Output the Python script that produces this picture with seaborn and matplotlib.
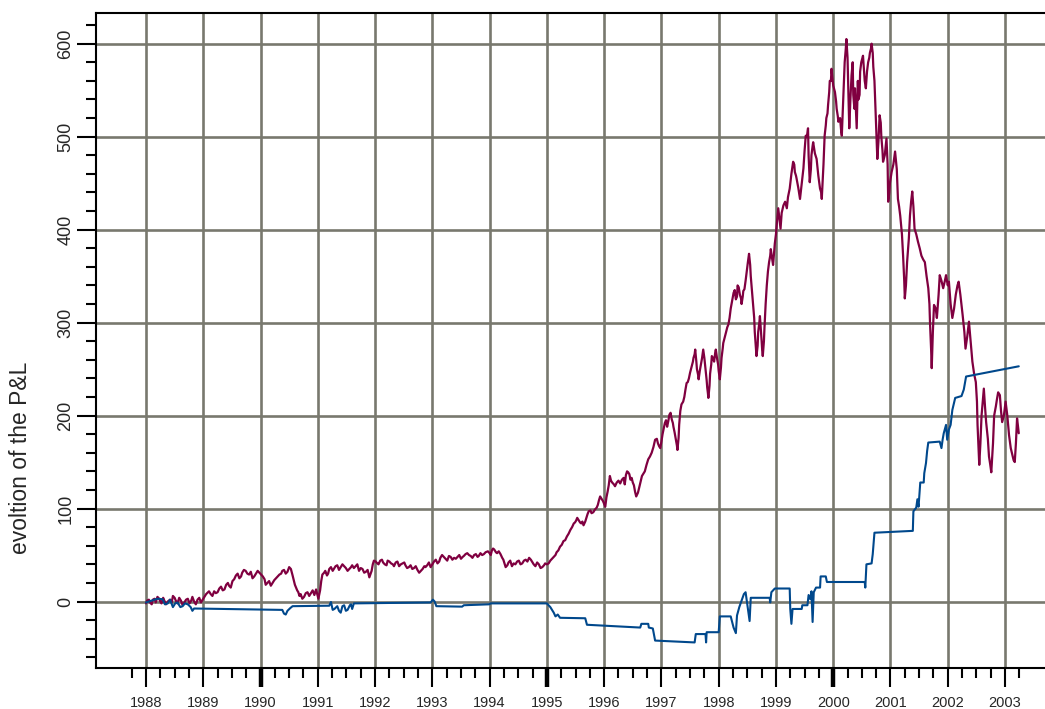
import numpy as np
import pandas as pd
import matplotlib
matplotlib.use("Agg")
import matplotlib.pyplot as plt
from matplotlib.ticker import FixedLocator
import seaborn as sns

# Cumulative P&L of the strategy (decimal year, value)
pnl_t = [
    1988.00, 1988.05, 1988.10, 1988.15, 1988.20, 1988.25, 1988.30, 1988.35, 1988.42, 1988.47,
    1988.52, 1988.58, 1988.64, 1988.70, 1988.76, 1988.81, 1988.87, 1988.93, 1989.00, 1989.05,
    1989.10, 1989.16, 1989.22, 1989.28, 1989.34, 1989.40, 1989.45, 1989.51, 1989.57, 1989.63,
    1989.68, 1989.74, 1989.80, 1989.86, 1989.92, 1989.98, 1990.04, 1990.09, 1990.15, 1990.21,
    1990.27, 1990.33, 1990.38, 1990.44, 1990.50, 1990.53, 1990.56, 1990.60, 1990.64, 1990.68,
    1990.73, 1990.79, 1990.85, 1990.91, 1990.97, 1991.01, 1991.06, 1991.11, 1991.16, 1991.20,
    1991.26, 1991.31, 1991.37, 1991.43, 1991.49, 1991.55, 1991.60, 1991.66, 1991.72, 1991.78,
    1991.84, 1991.90, 1991.94, 1991.98, 1992.04, 1992.09, 1992.14, 1992.20, 1992.25, 1992.31,
    1992.36, 1992.42, 1992.48, 1992.53, 1992.59, 1992.65, 1992.71, 1992.77, 1992.83, 1992.88,
    1992.94, 1993.00, 1993.06, 1993.12, 1993.17, 1993.23, 1993.29, 1993.35, 1993.41, 1993.47,
    1993.53, 1993.58, 1993.64, 1993.70, 1993.76, 1993.81, 1993.87, 1993.93, 1994.00, 1994.04,
    1994.08, 1994.13, 1994.19, 1994.24, 1994.28, 1994.33, 1994.39, 1994.45, 1994.51, 1994.57,
    1994.63, 1994.69, 1994.74, 1994.80, 1994.86, 1994.92, 1994.97, 1995.00, 1995.06, 1995.12,
    1995.17, 1995.23, 1995.29, 1995.35, 1995.41, 1995.47, 1995.51, 1995.55, 1995.60, 1995.64,
    1995.69, 1995.73, 1995.78, 1995.84, 1995.89, 1995.93, 1995.98, 1996.02, 1996.06, 1996.10,
    1996.14, 1996.19, 1996.25, 1996.31, 1996.36, 1996.40, 1996.44, 1996.48, 1996.52, 1996.56,
    1996.61, 1996.66, 1996.71, 1996.77, 1996.83, 1996.89, 1996.94, 1996.98, 1997.02, 1997.06,
    1997.10, 1997.14, 1997.18, 1997.21, 1997.25, 1997.28, 1997.31, 1997.35, 1997.40, 1997.44,
    1997.48, 1997.53, 1997.56, 1997.59, 1997.62, 1997.65, 1997.69, 1997.73, 1997.77, 1997.80,
    1997.82, 1997.85, 1997.88, 1997.92, 1997.95, 1997.99, 1998.02, 1998.05, 1998.08, 1998.13,
    1998.17, 1998.21, 1998.26, 1998.30, 1998.33, 1998.37, 1998.40, 1998.43, 1998.45, 1998.49,
    1998.53, 1998.56, 1998.60, 1998.63, 1998.66, 1998.69, 1998.72, 1998.75, 1998.77, 1998.80,
    1998.84, 1998.88, 1998.91, 1998.95, 1999.00, 1999.04, 1999.08, 1999.13, 1999.19, 1999.24,
    1999.30, 1999.33, 1999.36, 1999.42, 1999.48, 1999.52, 1999.56, 1999.59, 1999.62, 1999.65,
    1999.71, 1999.77, 1999.80, 1999.85, 1999.88, 1999.91, 1999.94, 1999.97, 2000.03, 2000.06,
    2000.09, 2000.15, 2000.20, 2000.23, 2000.26, 2000.28, 2000.32, 2000.35, 2000.38, 2000.41,
    2000.44, 2000.47, 2000.52, 2000.57, 2000.61, 2000.64, 2000.67, 2000.70, 2000.73, 2000.77,
    2000.81, 2000.84, 2000.87, 2000.93, 2000.96, 2000.99, 2001.02, 2001.08, 2001.13, 2001.17,
    2001.22, 2001.25, 2001.29, 2001.34, 2001.38, 2001.42, 2001.48, 2001.54, 2001.60, 2001.66,
    2001.69, 2001.72, 2001.76, 2001.81, 2001.86, 2001.92, 2001.97, 2002.02, 2002.08, 2002.14,
    2002.19, 2002.26, 2002.31, 2002.37, 2002.43, 2002.49, 2002.52, 2002.55, 2002.59, 2002.63,
    2002.67, 2002.72, 2002.76, 2002.81, 2002.86, 2002.91, 2002.95, 2003.01, 2003.07, 2003.13,
    2003.17, 2003.21, 2003.24,
]
pnl_v = [
    -2, 2, -3, 3, 5, 0, 4, -3, 2, 6,
    1, 4, -4, 2, -2, 5, -3, 4, 3, 8,
    11, 6, 9, 14, 12, 18, 17, 22, 28, 25,
    31, 33, 29, 25, 30, 31, 27, 18, 22, 20,
    25, 29, 33, 30, 37, 35, 28, 18, 12, 6,
    3, 9, 6, 12, 13, 3, 22, 31, 28, 35,
    33, 38, 34, 40, 36, 35, 39, 38, 33, 35,
    32, 26, 33, 44, 41, 44, 42, 39, 43, 40,
    42, 38, 41, 39, 37, 35, 38, 31, 35, 37,
    42, 40, 45, 43, 50, 46, 49, 45, 46, 50,
    48, 51, 50, 47, 51, 49, 50, 53, 52, 55,
    56, 52, 51, 45, 37, 42, 38, 40, 44, 41,
    45, 47, 43, 38, 40, 37, 41, 40, 44, 48,
    53, 59, 65, 70, 77, 84, 87, 88, 84, 82,
    90, 97, 95, 99, 104, 113, 108, 102, 118, 135,
    128, 124, 130, 131, 126, 140, 137, 133, 125, 113,
    122, 135, 140, 153, 160, 174, 170, 165, 180, 192,
    188, 201, 196, 188, 175, 163, 190, 212, 220, 235,
    240, 253, 262, 271, 250, 239, 255, 271, 250, 230,
    219, 245, 264, 258, 271, 255, 239, 262, 278, 290,
    298, 315, 332, 325, 340, 330, 320, 334, 336, 355,
    374, 350, 320, 290, 264, 290, 307, 280, 264, 295,
    340, 365, 379, 362, 395, 423, 401, 426, 423, 444,
    473, 462, 455, 433, 466, 501, 509, 451, 480, 494,
    476, 444, 433, 501, 520, 534, 560, 573, 548, 530,
    516, 501, 580, 605, 560, 509, 566, 545, 552, 509,
    540, 570, 587, 552, 580, 590, 600, 575, 544, 476,
    523, 500, 473, 498, 430, 450, 462, 484, 433, 415,
    372, 326, 365, 415, 441, 401, 387, 372, 365, 337,
    300, 251, 319, 305, 351, 337, 351, 344, 305, 330,
    344, 308, 272, 301, 258, 236, 190, 147, 200, 229,
    193, 156, 139, 200, 218, 222, 193, 215, 179, 157,
    150, 197, 181,
]

# Finer day-to-day swings of the same strategy P&L
pnl_detail_t = [
    1988.02, 1988.07, 1988.12, 1988.17, 1988.23, 1988.27, 1988.32, 1988.38, 1988.45, 1988.50,
    1988.55, 1988.61, 1988.67, 1988.73, 1988.79, 1988.84, 1988.90, 1988.96, 1989.03, 1989.13,
    1989.19, 1989.25, 1989.31, 1989.37, 1989.43, 1989.48, 1989.54, 1989.60, 1989.66, 1989.71,
    1989.77, 1989.83, 1989.89, 1989.95, 1990.01, 1990.07, 1990.12, 1990.18, 1990.24, 1990.30,
    1990.36, 1990.41, 1990.47, 1990.62, 1990.66, 1990.70, 1990.76, 1990.82, 1990.88, 1990.94,
    1991.04, 1991.08, 1991.13, 1991.18, 1991.23, 1991.28, 1991.34, 1991.40, 1991.46, 1991.52,
    1991.58, 1991.63, 1991.69, 1991.75, 1991.81, 1991.87, 1991.96, 1992.01, 1992.06, 1992.12,
    1992.17, 1992.22, 1992.28, 1992.33, 1992.39, 1992.45, 1992.51, 1992.56, 1992.62, 1992.68,
    1992.74, 1992.80, 1992.86, 1992.91, 1992.97, 1993.03, 1993.09, 1993.14, 1993.20, 1993.26,
    1993.32, 1993.38, 1993.44, 1993.50, 1993.55, 1993.61, 1993.67, 1993.73, 1993.79, 1993.84,
    1993.90, 1993.97, 1994.02, 1994.06, 1994.11, 1994.16, 1994.22, 1994.26, 1994.31, 1994.36,
    1994.42, 1994.48, 1994.54, 1994.60, 1994.66, 1994.72, 1994.77, 1994.83, 1994.89, 1994.95,
    1995.03, 1995.09, 1995.15, 1995.20, 1995.26, 1995.32, 1995.38, 1995.44, 1995.49, 1995.53,
    1995.58, 1995.62, 1995.67, 1995.71, 1995.76, 1995.81, 1995.87, 1995.91, 1995.96, 1996.00,
    1996.04, 1996.08, 1996.12, 1996.17, 1996.22, 1996.28, 1996.34, 1996.38, 1996.42, 1996.46,
    1996.50, 1996.54, 1996.59, 1996.64, 1996.69, 1996.74, 1996.80, 1996.86, 1996.92, 1996.96,
    1997.00, 1997.04, 1997.08, 1997.12, 1997.16, 1997.20, 1997.23, 1997.27, 1997.30, 1997.33,
    1997.38, 1997.42, 1997.46, 1997.50, 1997.55, 1997.58, 1997.61, 1997.64, 1997.67, 1997.71,
    1997.75, 1997.79, 1997.81, 1997.84, 1997.87, 1997.90, 1997.94, 1997.97, 1998.00, 1998.04,
    1998.07, 1998.11, 1998.15, 1998.19, 1998.24, 1998.28, 1998.32, 1998.35, 1998.39, 1998.42,
    1998.47, 1998.51, 1998.55, 1998.58, 1998.62, 1998.65, 1998.68, 1998.71, 1998.74, 1998.76,
    1998.79, 1998.82, 1998.86, 1998.90, 1998.93, 1998.98, 1999.02, 1999.06, 1999.10, 1999.16,
    1999.21, 1999.27, 1999.32, 1999.35, 1999.39, 1999.45, 1999.50, 1999.54, 1999.57, 1999.61,
    1999.64, 1999.68, 1999.74, 1999.79, 1999.83, 1999.87, 1999.90, 1999.93, 1999.96, 2000.00,
    2000.05, 2000.08, 2000.12, 2000.14, 2000.18, 2000.22, 2000.25, 2000.27, 2000.30, 2000.34,
    2000.37, 2000.40, 2000.43, 2000.46, 2000.49, 2000.55, 2000.59, 2000.63, 2000.66, 2000.69,
    2000.72, 2000.75, 2000.79, 2000.83, 2000.86, 2000.90, 2000.95, 2000.98, 2001.05, 2001.11,
    2001.15, 2001.20, 2001.24, 2001.27, 2001.32, 2001.36, 2001.40, 2001.45, 2001.51, 2001.57,
    2001.63, 2001.68, 2001.71, 2001.74, 2001.79, 2001.84, 2001.89, 2001.95, 2002.00, 2002.05,
    2002.11, 2002.17, 2002.22, 2002.29, 2002.34, 2002.40, 2002.46, 2002.51, 2002.57, 2002.61,
    2002.65, 2002.70, 2002.74, 2002.79, 2002.84, 2002.88, 2002.93, 2002.98, 2003.04, 2003.10,
    2003.15, 2003.19, 2003.22,
]
pnl_detail_v = [
    1, -1, 2, -1, 3, -2, 1, 0, -1, 4,
    -2, 1, -1, 3, 1, 0, 2, -1, 6, 8,
    11, 10, 16, 13, 20, 15, 24, 30, 27, 34,
    30, 32, 27, 33, 29, 24, 20, 17, 23, 27,
    30, 34, 32, 15, 10, 8, 5, 10, 9, 7,
    12, 29, 33, 30, 37, 35, 39, 37, 38, 33,
    37, 36, 40, 36, 31, 34, 40, 43, 40, 45,
    40, 44, 41, 38, 43, 40, 42, 36, 39, 36,
    34, 33, 38, 39, 37, 43, 41, 47, 48, 44,
    48, 47, 48, 46, 49, 52, 49, 50, 48, 52,
    51, 54, 50, 57, 53, 54, 47, 41, 39, 44,
    41, 43, 40, 44, 43, 45, 40, 42, 36, 39,
    41, 46, 50, 55, 61, 66, 73, 80, 85, 90,
    85, 86, 86, 94, 98, 96, 101, 109, 110, 105,
    112, 125, 130, 126, 128, 127, 133, 136, 139, 131,
    128, 118, 117, 130, 138, 147, 156, 166, 175, 167,
    172, 186, 195, 194, 203, 192, 182, 168, 176, 205,
    215, 228, 236, 246, 258, 266, 258, 244, 248, 262,
    262, 238, 225, 232, 255, 262, 268, 262, 248, 252,
    272, 285, 295, 305, 325, 335, 328, 338, 326, 328,
    345, 365, 362, 335, 305, 272, 275, 300, 290, 270,
    280, 320, 355, 372, 370, 385, 410, 412, 418, 430,
    435, 460, 470, 458, 445, 450, 485, 500, 480, 465,
    490, 482, 458, 440, 470, 512, 525, 548, 560, 555,
    538, 522, 520, 505, 550, 595, 585, 535, 540, 580,
    530, 525, 560, 545, 580, 560, 570, 585, 595, 590,
    560, 510, 495, 515, 485, 480, 470, 440, 470, 465,
    425, 395, 345, 340, 390, 430, 425, 395, 380, 368,
    350, 320, 270, 290, 315, 330, 345, 345, 340, 320,
    315, 340, 330, 290, 285, 280, 245, 215, 170, 215,
    210, 175, 148, 170, 210, 225, 205, 200, 200, 165,
    152, 170, 192,
]

# Cumulative P&L of the hedged position (step-like)
hedge_t = [
    1988.00, 1988.10, 1988.20, 1988.29, 1988.33, 1988.38, 1988.42, 1988.47, 1988.51, 1988.55,
    1988.60, 1988.64, 1988.68, 1988.73, 1988.78, 1988.81, 1988.84, 1990.38, 1990.41, 1990.44,
    1990.47, 1990.52, 1990.56, 1991.20, 1991.23, 1991.26, 1991.29, 1991.34, 1991.37, 1991.40,
    1991.43, 1991.46, 1991.49, 1991.52, 1991.56, 1991.58, 1991.60, 1991.63, 1992.97, 1993.01,
    1993.04, 1993.07, 1993.52, 1993.55, 1993.99, 1994.02, 1995.00, 1995.06, 1995.12, 1995.15,
    1995.19, 1995.23, 1995.67, 1995.70, 1996.63, 1996.65, 1996.77, 1996.78, 1996.85, 1996.89,
    1997.58, 1997.60, 1997.77, 1997.78, 1997.79, 1998.00, 1998.02, 1998.21, 1998.26, 1998.30,
    1998.32, 1998.36, 1998.40, 1998.44, 1998.47, 1998.51, 1998.54, 1998.56, 1998.89, 1998.90,
    1998.92, 1998.98, 1999.24, 1999.25, 1999.27, 1999.29, 1999.45, 1999.46, 1999.55, 1999.57,
    1999.60, 1999.62, 1999.64, 1999.66, 1999.70, 1999.77, 1999.78, 1999.87, 1999.89, 2000.55,
    2000.56, 2000.58, 2000.67, 2000.69, 2000.72, 2001.39, 2001.40, 2001.45, 2001.47, 2001.49,
    2001.52, 2001.58, 2001.59, 2001.62, 2001.64, 2001.66, 2001.86, 2001.89, 2001.91, 2001.93,
    2001.97, 2001.99, 2002.02, 2002.05, 2002.08, 2002.13, 2002.24, 2002.28, 2002.32, 2003.24,
]
hedge_v = [
    -1, 1, 3, 2.5, -3, -2, 2, -6, -2, -1,
    -6, -5, -2, -3, -6, -10, -7.5, -9, -13, -14,
    -10, -7, -5, -4.5, -0.5, -9, -8, -5, -10, -12,
    -5, -4, -10, -9, -4, -3, -8, -2, -1, 2,
    0, -5, -5.5, -4, -3, -2, -2, -6, -12, -16,
    -14, -17.5, -18, -25, -28, -24, -24, -28, -29, -42,
    -44, -35, -35, -44, -33, -33, -16, -16, -28, -34,
    -15, -6, 1, 8, 10, -8, -21, 4, 4, -1,
    10, 14, 14, -8, -24, -8, -8, -4, -4, 7,
    2.5, 11, -22, 10, 15, 15, 27, 27, 21, 21,
    15, 40, 41, 51, 74, 76, 97, 101, 110, 102,
    128, 128, 138, 149, 162, 171, 172, 165, 174, 181,
    190, 174, 185, 190, 206, 219, 221, 228, 242, 253,
]

year_ticks = list(range(1988, 2004))
quarter_ticks = [1987.75] + [y + q for y in range(1988, 2004) for q in (0.25, 0.5, 0.75)
                             if y + q <= 2003.25]
value_ticks = list(range(0, 700, 100))
value_minor = [v for v in range(-60, 640, 20) if v % 100 != 0]

pnl_color = "#800040"
hedge_color = "#00488c"
grid_color = "#78786e"

sns.set_style("white")
plt.rcParams["font.family"] = ["Liberation Sans", "DejaVu Sans"]

fig = plt.figure(figsize=(10.45, 7.09), dpi=100)
ax = fig.add_axes([96 / 1045, 1 - 668 / 709, 1 - 96 / 1045, (668 - 13) / 709])

pnl = (pd.DataFrame({"t": pnl_t + pnl_detail_t, "v": pnl_v + pnl_detail_v})
       .sort_values("t", kind="stable"))
hedge = pd.DataFrame({"t": hedge_t, "v": hedge_v})

sns.lineplot(data=pnl, x="t", y="v", ax=ax, color=pnl_color, lw=1.6,
             sort=False, estimator=None, zorder=3)
sns.lineplot(data=hedge, x="t", y="v", ax=ax, color=hedge_color, lw=1.5,
             sort=False, estimator=None, zorder=4)

ax.set_xlim(1987.127, 2003.698)
ax.set_ylim(-71.5, 633)

ax.xaxis.set_major_locator(FixedLocator(year_ticks))
ax.xaxis.set_minor_locator(FixedLocator(quarter_ticks))
ax.yaxis.set_major_locator(FixedLocator(value_ticks))
ax.yaxis.set_minor_locator(FixedLocator(value_minor))
ax.set_xticklabels([str(y) for y in year_ticks])
ax.set_yticklabels([str(v) for v in value_ticks])

ax.grid(True, which="major", color=grid_color, lw=1.9)
ax.set_axisbelow(True)

ax.tick_params(axis="x", which="major", direction="out", length=14, width=1.5,
               color="black", labelsize=10.5, pad=6.5, bottom=True)
ax.tick_params(axis="x", which="minor", direction="out", length=7, width=1.5,
               color="black", bottom=True)
ax.tick_params(axis="y", which="major", direction="out", length=14, width=1.5,
               color="black", labelsize=13, pad=1.5, labelrotation=90, left=True)
ax.tick_params(axis="y", which="minor", direction="out", length=7, width=1.5,
               color="black", left=True)
for lbl in ax.get_yticklabels():
    lbl.set_va("center")

# heavier ticks marking each half-decade
for tick in ax.xaxis.get_major_ticks():
    if tick.get_loc() in (1990, 1995, 2000):
        tick.tick1line.set_markeredgewidth(3.2)

for side in ("left", "bottom", "top"):
    ax.spines[side].set_visible(True)
    ax.spines[side].set_color("black")
    ax.spines[side].set_linewidth(1.5)
ax.spines["right"].set_visible(False)

ax.set_xlabel("")
ax.set_ylabel("evoltion of the P&L", fontsize=16.5)
ax.yaxis.set_label_coords((32 - 96) / 949, (668 - 457.5) / 655)

fig.savefig("out.png", dpi=100)
